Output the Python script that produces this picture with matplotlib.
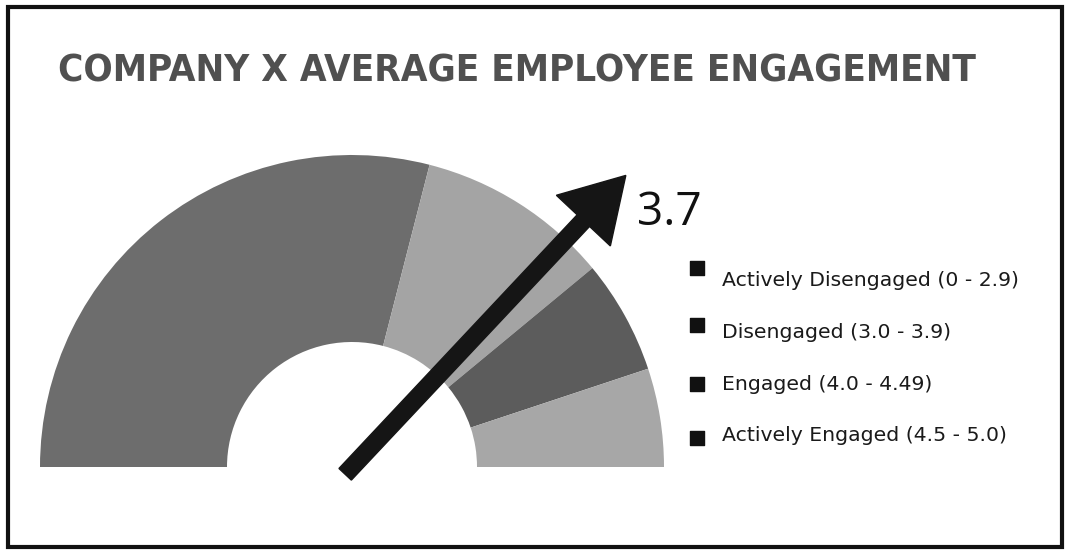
"""
Company X engagement gauge
"""

import matplotlib.pyplot as plt
import numpy as np
from matplotlib import font_manager
from matplotlib.patches import Rectangle

# Gauge data (scale 0 - 5)
band_labels = ['Actively Disengaged (0 - 2.9)', 'Disengaged (3.0 - 3.9)',
               'Engaged (4.0 - 4.49)', 'Actively Engaged (4.5 - 5.0)']
band_edges = [0, 2.9, 3.9, 4.49, 5.0]
band_colors = ['#6d6d6d', '#a4a4a4', '#5c5c5c', '#a7a7a7']
scale_max = 5.0
score = 3.7
title = 'COMPANY X AVERAGE EMPLOYEE ENGAGEMENT'

W, H = 1068, 553
fig = plt.figure(figsize=(W / 100, H / 100), dpi=100)
ax = fig.add_axes([0, 0, 1, 1])

# Half donut: the bands plus an invisible bottom half
widths = list(np.diff(band_edges))
cx, cy = 352, H - 467
r_out, r_in = 312, 125
ax.pie(widths + [scale_max], colors=band_colors + ['none'],
       startangle=180, counterclock=False, center=(cx, cy), radius=r_out,
       wedgeprops=dict(width=r_out - r_in, linewidth=0))

# pie() resets the limits, so set pixel-like limits afterwards
ax.set_xlim(0, W)
ax.set_ylim(0, H)
ax.set_aspect('equal')
ax.axis('off')

# Needle pointing at the score
ang = np.radians(180 - score / scale_max * 180)
length = 400
tail = -10
x0, y0 = cx + tail * np.cos(ang), cy + tail * np.sin(ang)
ax.arrow(x0, y0, (length - tail) * np.cos(ang), (length - tail) * np.sin(ang),
         width=17, head_width=74, head_length=62, length_includes_head=True,
         color='#151515', zorder=5)
tipx, tipy = cx + length * np.cos(ang), cy + length * np.sin(ang)
ax.text(tipx + 11, tipy - 50, f'{score}', fontsize=33, family='Open Sans',
        color='#111111', ha='left', va='baseline')

# Legend
marker_shift = [13, 8, 0, -2]
for i, label in enumerate(band_labels):
    ly = H - 281 - i * 51.5
    ax.scatter([697], [ly + marker_shift[i]], marker='s', s=95, color='#111111')
    ax.text(722, ly, label, fontsize=14.7, family='DejaVu Sans', color='#1a1a1a',
            ha='left', va='center')

# Title: pick a narrow bold face if one is installed
title_font = None
for f in font_manager.fontManager.ttflist:
    if f.stretch in ('condensed', 'semi-condensed') and f.weight in (600, 700, 'bold'):
        title_font = font_manager.FontProperties(fname=f.fname)
        break
if title_font is None:
    title_font = font_manager.FontProperties(family='Liberation Sans', weight='bold')
title_font.set_size(30)
t = ax.text(58, H - 82, title, fontproperties=title_font,
            color='#505050', ha='left', va='baseline')
# fit the title to its width in the reference
fig.canvas.draw()
tw = t.get_window_extent().width
title_font.set_size(30 * 917 / tw)
t.set_fontproperties(title_font)

# Frame around the chart
fig.patches.append(Rectangle((8 / W, 6 / H), 1054 / W, 540 / H, transform=fig.transFigure,
                             fill=False, edgecolor='#111111', linewidth=3))

fig.savefig('out.png', dpi=100)
